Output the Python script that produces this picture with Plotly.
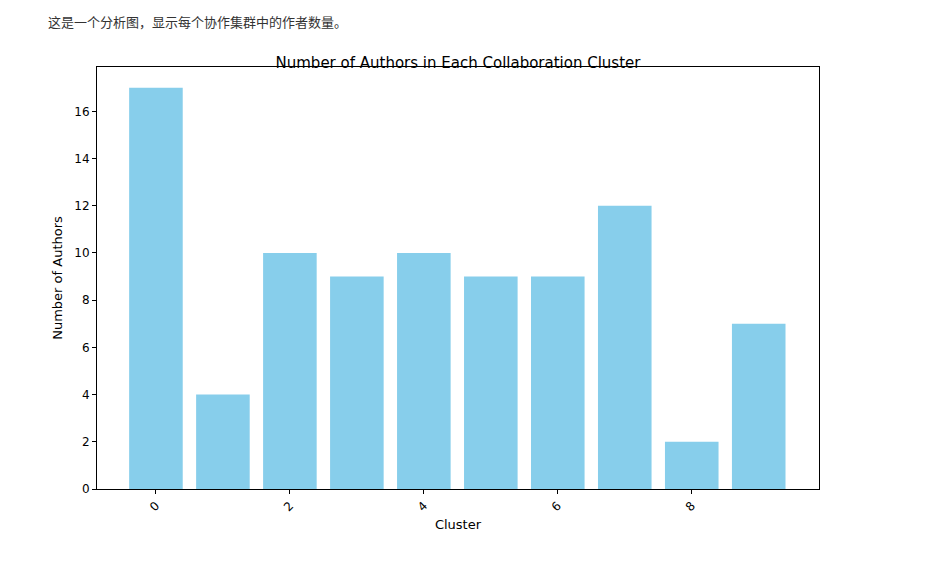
import plotly.graph_objects as go

clusters = list(range(10))
authors = [17, 4, 10, 9, 10, 9, 9, 12, 2, 7]
x_ticks = [0, 2, 4, 6, 8]
y_ticks = [0, 2, 4, 6, 8, 10, 12, 14, 16]

fig = go.Figure(go.Bar(x=clusters, y=authors, width=0.8, marker_color='skyblue', marker_line_width=0))

axis = dict(showline=True, linecolor='black', linewidth=1, mirror=True, showgrid=False, zeroline=False,
            ticks='outside', ticklen=4, tickcolor='black', tickfont=dict(size=12, color='black'))
fig.update_xaxes(range=[-0.88, 9.9], tickvals=x_ticks, tickangle=-45,
                 title=dict(text='Cluster', font=dict(size=13, color='black'), standoff=6), **axis)
fig.update_yaxes(range=[0, 17.88], tickvals=y_ticks,
                 title=dict(text='Number of Authors', font=dict(size=13, color='black'), standoff=8), **axis)

fig.update_layout(
    width=940, height=561,
    margin=dict(l=89, r=129, t=59, b=80),
    plot_bgcolor='white', paper_bgcolor='white',
    font=dict(family='DejaVu Sans'),
    title=dict(text='Number of Authors in Each Collaboration Cluster', x=0.5, xanchor='center',
               xref='paper', y=0.903, yanchor='middle', font=dict(size=15, color='black')),
    showlegend=False,
    annotations=[dict(text='这是一个分析图，显示每个协作集群中的作者数量。', xref='paper', yref='paper',
                      x=-0.07, y=1.135, xanchor='left', yanchor='top', showarrow=False,
                      font=dict(family='Noto Sans CJK SC', size=13, color='#333'))],
)

fig.write_html("out.html")
